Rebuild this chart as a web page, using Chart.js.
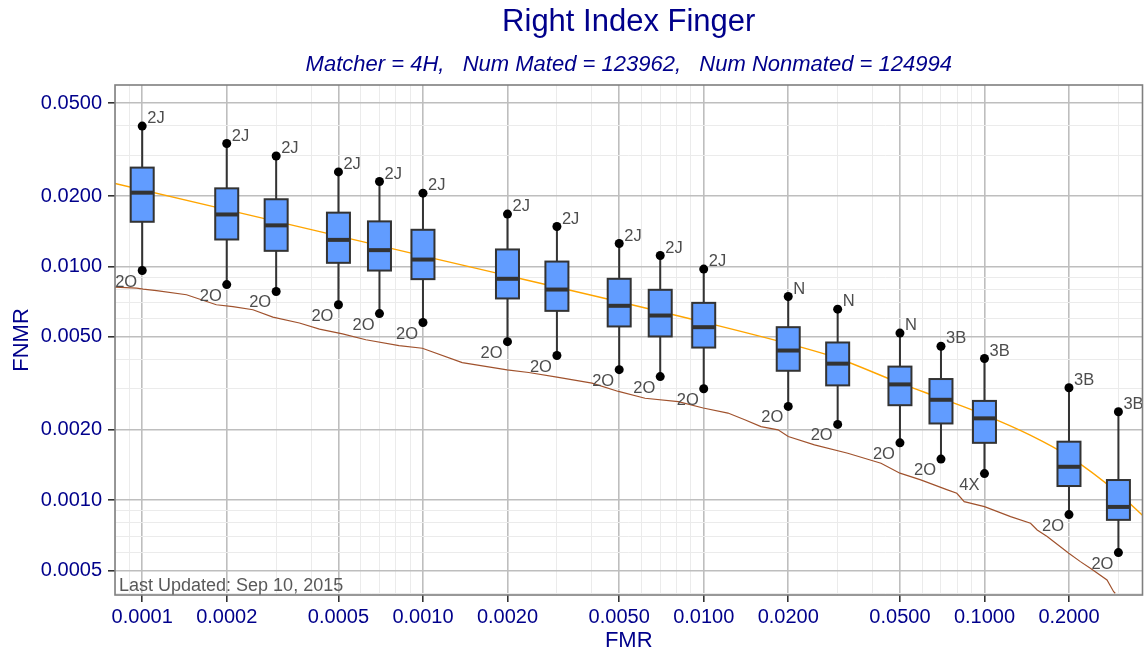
<!DOCTYPE html>
<html><head><meta charset="utf-8">
<script src="https://cdn.jsdelivr.net/npm/chart.js@4.4.0/dist/chart.umd.min.js"></script>
<style>html,body{margin:0;padding:0;background:#fff;overflow:hidden}#wrap{width:1147px;height:655px;position:relative}</style>
</head><body><div id="wrap"><canvas id="c" width="1147" height="655"></canvas></div>
<script>
// ---------- data ----------
const fmr = [0.0001,0.0002,0.0003,0.0005,0.0007,0.001,0.002,0.003,0.005,0.007,0.01,0.02,0.03,0.05,0.07,0.1,0.2,0.3];
const whiskerHigh = [0.0399,0.0336,0.0297,0.0254,0.0231,0.0206,0.01676,0.01483,0.01254,0.01114,0.00975,0.00744,0.00657,0.00519,0.00456,0.00404,0.00303,0.00239];
const q3 = [0.0265,0.0216,0.0194,0.0170,0.0156,0.01436,0.01183,0.0105,0.00886,0.00795,0.00699,0.0055,0.00473,0.00373,0.0033,0.00266,0.00178,0.00122];
const median = [0.0207,0.0167,0.0150,0.0130,0.01175,0.01071,0.00886,0.00797,0.00679,0.00617,0.0055,0.00437,0.00384,0.00313,0.00269,0.00224,0.00139,0.000936];
const q1 = [0.01554,0.01305,0.01167,0.01037,0.00961,0.00883,0.0073,0.00646,0.00554,0.00502,0.0045,0.00358,0.0031,0.00255,0.00213,0.00176,0.00115,0.000824];
const whiskerLow = [0.00961,0.00837,0.00782,0.00686,0.00629,0.00576,0.00477,0.00416,0.00362,0.00338,0.0030,0.00252,0.00211,0.00176,0.0015,0.0013,0.000868,0.000597];
const topLabels = ['2J','2J','2J','2J','2J','2J','2J','2J','2J','2J','2J','N','N','N','3B','3B','3B','3B'];
const bottomLabels = ['2O','2O','2O','2O','2O','2O','2O','2O','2O','2O','2O','2O','2O','2O','2O','4X','2O','2O'];

const detFMR = [0.00008,0.0000955,0.0001008,0.0001125,0.0001438,0.0001837,0.0002104,0.0002479,0.000292,0.000363,0.000428,0.000517,0.000626,0.000822,0.000995,0.00138,0.001994,0.00238,0.003,0.004,0.00497,0.00618,0.00812,0.00996,0.0122,0.014,0.016,0.0184,0.02,0.0248,0.0326,0.0428,0.05,0.0593,0.0738,0.0797,0.0847,0.1,0.1239,0.1459,0.1541,0.1672,0.1997,0.2196,0.2383,0.2732,0.2885,0.2923];
const detFNMR = [0.00816,0.00808,0.008,0.00789,0.00757,0.00686,0.00674,0.00653,0.00607,0.00573,0.0054,0.00515,0.00486,0.00459,0.00447,0.00388,0.00361,0.00352,0.00336,0.00317,0.00292,0.00273,0.00264,0.00248,0.00236,0.00221,0.002065,0.002,0.001872,0.001725,0.001589,0.00144,0.001305,0.001222,0.001107,0.001071,0.000986,0.000939,0.000851,0.000797,0.000746,0.000699,0.000593,0.000546,0.000512,0.000456,0.000406,0.0004];

const fitFMR = [0.00008,0.001,0.01,0.0217,0.03,0.05,0.07,0.1,0.1455,0.2,0.3,0.37];
const fitFNMR = [0.02266,0.0111,0.00578,0.00455,0.00405,0.00317,0.00273,0.00232,0.0019,0.00154,0.00107,0.00085];

const xTickValues = [0.0001,0.0002,0.0005,0.001,0.002,0.005,0.01,0.02,0.05,0.1,0.2];
const xTickLabels = ['0.0001','0.0002','0.0005','0.0010','0.0020','0.0050','0.0100','0.0200','0.0500','0.1000','0.2000'];
const yTickValues = [0.0005,0.001,0.002,0.005,0.01,0.02,0.05];
const yTickLabels = ['0.0005','0.0010','0.0020','0.0050','0.0100','0.0200','0.0500'];

const X_MIN = 0.00008, X_MAX = 0.3655, Y_MIN = 0.000393, Y_MAX = 0.0598;

// ---------- styling ----------
const FONT = "'Liberation Sans', Arial, sans-serif";
const NAVY = '#00008B';
const BOX_FILL = '#619CFF';
const DARK = '#333333';

function gridTicks(min, max){
  const t = [];
  for (let e = -6; e <= 1; e++) for (let m = 1; m <= 9; m++) {
    const v = +(m * Math.pow(10, e)).toPrecision(6);
    if (v >= min * 0.9999 && v <= max * 1.0001) t.push({value: v});
  }
  return t;
}
function idxOf(v, vals){ for (let i=0;i<vals.length;i++) if (Math.abs(vals[i]-v)/vals[i] < 1e-6) return i; return -1; }

function gridOpts(vals){
  return {
    color: c => (c.tick && idxOf(c.tick.value, vals) >= 0) ? '#bebebe' : '#ebebeb',
    lineWidth: c => (c.tick && idxOf(c.tick.value, vals) >= 0) ? 1.6 : 1,
    tickColor: c => (c.tick && idxOf(c.tick.value, vals) >= 0) ? DARK : 'rgba(0,0,0,0)',
    tickLength: 7,
    tickWidth: 1.6,
    drawTicks: true
  };
}

const boxPlugin = {
  id: 'boxes',
  beforeDatasetsDraw(chart){
    const {ctx, scales:{x, y}} = chart;
    ctx.save();
    ctx.strokeStyle = DARK; ctx.lineWidth = 2;
    for (let i = 0; i < fmr.length; i++){
      const px = x.getPixelForValue(fmr[i]);
      ctx.beginPath();
      ctx.moveTo(px, y.getPixelForValue(whiskerHigh[i])); ctx.lineTo(px, y.getPixelForValue(q3[i]));
      ctx.moveTo(px, y.getPixelForValue(q1[i])); ctx.lineTo(px, y.getPixelForValue(whiskerLow[i]));
      ctx.stroke();
    }
    ctx.restore();
  },
  afterDatasetsDraw(chart){
    const {ctx, scales:{x, y}} = chart;
    const half = 11.5;
    ctx.save();
    for (let i = 0; i < fmr.length; i++){
      const px = x.getPixelForValue(fmr[i]);
      const yT = y.getPixelForValue(q3[i]), yB = y.getPixelForValue(q1[i]), yM = y.getPixelForValue(median[i]);
      ctx.fillStyle = BOX_FILL;
      ctx.fillRect(px - half, yT, 2*half, yB - yT);
      ctx.strokeStyle = DARK; ctx.lineWidth = 2;
      ctx.strokeRect(px - half, yT, 2*half, yB - yT);
      ctx.lineWidth = 4;
      ctx.beginPath(); ctx.moveTo(px - half, yM); ctx.lineTo(px + half, yM); ctx.stroke();
    }
    // labels
    ctx.fillStyle = '#4D4D4D';
    ctx.font = '16.5px ' + FONT;
    ctx.textBaseline = 'alphabetic';
    for (let i = 0; i < fmr.length; i++){
      const px = x.getPixelForValue(fmr[i]);
      ctx.textAlign = 'left';
      ctx.fillText(topLabels[i], px + 5, y.getPixelForValue(whiskerHigh[i]) - 3);
      ctx.textAlign = 'right';
      ctx.fillText(bottomLabels[i], px - 5, y.getPixelForValue(whiskerLow[i]) + 16);
    }
    // footnote
    ctx.textAlign = 'left';
    ctx.fillStyle = '#595959';
    ctx.font = '18px ' + FONT;
    ctx.fillText('Last Updated: Sep 10, 2015', chart.chartArea.left + 4, chart.chartArea.bottom - 4);
    ctx.restore();
  },
  afterDraw(chart){
    const {ctx, chartArea:a} = chart;
    ctx.save();
    ctx.strokeStyle = '#7f7f7f'; ctx.lineWidth = 1.6;
    ctx.strokeRect(a.left, a.top, a.right - a.left, a.bottom - a.top);
    ctx.restore();
  }
};

new Chart(document.getElementById('c'), {
  type: 'scatter',
  data: {
    datasets: [
      { data: detFMR.map((v,i)=>({x:v, y:detFNMR[i]})), showLine:true, borderColor:'#A0522D', borderWidth:1.2, pointRadius:0, tension:0 },
      { data: fitFMR.map((v,i)=>({x:v, y:fitFNMR[i]})), showLine:true, borderColor:'#FFA500', borderWidth:1.4, pointRadius:0, cubicInterpolationMode:'monotone' },
      { data: fmr.map((v,i)=>({x:v, y:whiskerHigh[i]})), pointRadius:4.5, pointBackgroundColor:'#000', pointBorderWidth:0, showLine:false },
      { data: fmr.map((v,i)=>({x:v, y:whiskerLow[i]})), pointRadius:4.5, pointBackgroundColor:'#000', pointBorderWidth:0, showLine:false }
    ]
  },
  options: {
    responsive:false, animation:false, devicePixelRatio:1,
    layout:{padding:{left:0, right:1.4, top:0, bottom:0}},
    plugins:{
      legend:{display:false}, tooltip:{enabled:false},
      title:{display:true, text:'Right Index Finger', color:NAVY, font:{family:FONT, size:31, weight:'normal'}, padding:{top:4, bottom:5}, fullSize:false},
      subtitle:{display:true, text:'Matcher = 4H,   Num Mated = 123962,   Num Nonmated = 124994', color:NAVY, font:{family:FONT, size:22, style:'italic', weight:'normal'}, padding:{top:5, bottom:7.4}, fullSize:false}
    },
    scales:{
      x:{
        type:'logarithmic', min:X_MIN, max:X_MAX,
        afterBuildTicks: s => { s.ticks = gridTicks(s.min, s.max); },
        afterFit: s => { s.height = 60; },
        ticks:{autoSkip:false, maxRotation:0, minRotation:0, color:NAVY, font:{family:FONT, size:20}, padding:3,
          callback: v => { const k = idxOf(v, xTickValues); return k >= 0 ? xTickLabels[k] : ''; }},
        grid: gridOpts(xTickValues),
        border:{display:false},
        title:{display:true, text:'FMR', color:NAVY, font:{family:FONT, size:22}, padding:{top:0, bottom:1}}
      },
      y:{
        type:'logarithmic', min:Y_MIN, max:Y_MAX,
        afterBuildTicks: s => { s.ticks = gridTicks(s.min, s.max); },
        afterFit: s => { s.width = 115; },
        ticks:{autoSkip:false, color:NAVY, font:{family:FONT, size:20}, padding:6,
          callback: v => { const k = idxOf(v, yTickValues); return k >= 0 ? yTickLabels[k] : ''; }},
        grid: gridOpts(yTickValues),
        border:{display:false},
        title:{display:true, text:'FNMR', color:NAVY, font:{family:FONT, size:22}, padding:{top:9, bottom:0}}
      }
    }
  },
  plugins:[boxPlugin]
});
</script></body></html>
